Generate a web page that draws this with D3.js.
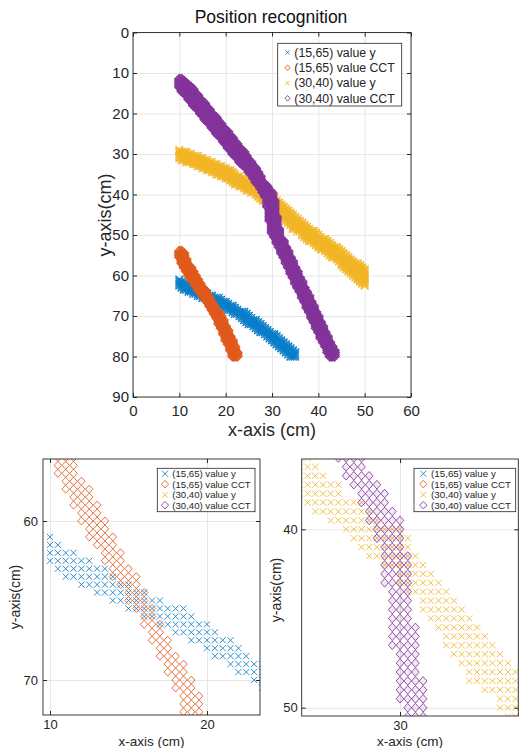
<!DOCTYPE html>
<html>
<head>
<meta charset="utf-8">
<script src="https://cdn.jsdelivr.net/npm/d3@7/dist/d3.min.js"></script>
<style>
  body { margin: 0; background: #fff; }
  svg { display: block; font-family: "Liberation Sans", Arial, sans-serif; }
</style>
</head>
<body>
<svg id="chart" width="519" height="748"></svg>
<script>
const seriesNames = ["(15,65) value y", "(15,65) value CCT", "(30,40) value y", "(30,40) value CCT"];
const seriesColors = ["#0a7ec9", "#e05a1c", "#f2b526", "#83339a"];
const seriesShapes = ["x", "diamond", "x", "diamond"];

const xTicksMain = [0, 10, 20, 30, 40, 50, 60];
const yTicksMain = [0, 10, 20, 30, 40, 50, 60, 70, 80, 90];
const xTicksLeft = [10, 20];
const yTicksLeft = [60, 70];
const xTicksRight = [30];
const yTicksRight = [40, 50];

// markers sit on a 0.5 cm grid; each row is [y, first x, last x]
const blueRows = [
  [61, 10, 10], [61.5, 10, 10.5], [62, 10, 11.5], [62.5, 10, 12.5], [63, 10.5, 13.5],
  [63.5, 11, 14], [64, 12, 15], [64.5, 13, 16], [65, 14, 17], [65.5, 15, 18.5],
  [66, 16, 19], [66.5, 17, 20], [67, 18, 20.5], [67.5, 19, 21.5], [68, 20, 22],
  [68.5, 20.5, 22.5], [69, 21.5, 24], [69.5, 22, 24.5], [70, 23, 25], [70.5, 23.5, 25.5],
  [71, 24, 26.5], [71.5, 24.5, 27], [72, 25, 27.5], [72.5, 26, 28], [73, 26.5, 28.5],
  [73.5, 27, 29], [74, 27.5, 29.5], [74.5, 28.5, 30.5], [75, 29, 31], [75.5, 29.5, 31.5],
  [76, 30, 32], [76.5, 30.5, 32.5], [77, 31, 33], [77.5, 31.5, 33.5], [78, 32, 34],
  [78.5, 32.5, 34.5], [79, 33, 35], [79.5, 33.5, 35], [80, 34, 35],
];

const orangeRows = [
  [54, 10, 10.5], [54.5, 10, 11], [55, 10, 11], [55.5, 10, 11], [56, 10.5, 11.5],
  [56.5, 10.5, 11.5], [57, 10.5, 11.5], [57.5, 11, 12], [58, 11, 12.5], [58.5, 11.5, 12.5],
  [59, 11.5, 13], [59.5, 12, 13], [60, 12, 13.5], [60.5, 12.5, 13.5], [61, 12.5, 14],
  [61.5, 13, 14], [62, 13.5, 14.5], [62.5, 13.5, 14.5], [63, 14, 15], [63.5, 14, 15.5],
  [64, 14.5, 15.5], [64.5, 15, 16], [65, 15, 16], [65.5, 15.5, 16.5], [66, 16, 16.5],
  [66.5, 16, 17], [67, 16.5, 17], [67.5, 16.5, 17.5], [68, 17, 17.5], [68.5, 17, 18],
  [69, 17.5, 18.5], [69.5, 17.5, 18.5], [70, 18, 19], [70.5, 18, 19], [71, 18.5, 19.5],
  [71.5, 18.5, 19.5], [72, 18.5, 19.5], [72.5, 19, 20], [73, 19, 20], [73.5, 19.5, 20.5],
  [74, 19.5, 20.5], [74.5, 19.5, 20.5], [75, 20, 21], [75.5, 20, 21], [76, 20, 21.5],
  [76.5, 20.5, 21.5], [77, 20.5, 21.5], [77.5, 21, 22], [78, 21, 22], [78.5, 21, 22],
  [79, 21.5, 22.5], [79.5, 21.5, 22.5], [80, 21.5, 22.5],
];

const yellowRows = [
  [29, 10, 10], [29.5, 10, 11.5], [30, 10, 12.5], [30.5, 10, 14], [31, 10, 15],
  [31.5, 10.5, 16], [32, 11.5, 17], [32.5, 13, 18], [33, 14, 19], [33.5, 15, 20],
  [34, 16, 21], [34.5, 17, 21.5], [35, 18, 22], [35.5, 19, 23], [36, 20, 24],
  [36.5, 21, 24.5], [37, 21.5, 25], [37.5, 22, 26], [38, 23, 26], [38.5, 24, 27.5],
  [39, 24.5, 28], [39.5, 25.5, 28.5], [40, 26.5, 30], [40.5, 27, 30.5], [41, 27.5, 30.5],
  [41.5, 28, 31], [42, 29, 31.5], [42.5, 30, 32], [43, 30, 32.5], [43.5, 30.5, 33],
  [44, 31.5, 33.5], [44.5, 31.5, 34], [45, 32, 34.5], [45.5, 32.5, 35], [46, 33, 35.5],
  [46.5, 33, 36], [47, 33.5, 36.5], [47.5, 34, 37], [48, 34.5, 37.5], [48.5, 34.5, 38],
  [49, 35.5, 39], [49.5, 36.5, 39.5], [50, 36.5, 40], [50.5, 37, 40.5], [51, 37.5, 41.5],
  [51.5, 38, 42], [52, 39, 42.5], [52.5, 39.5, 43], [53, 40, 44], [53.5, 40.5, 44.5],
  [54, 41.5, 45], [54.5, 42, 45.5], [55, 42.5, 46], [55.5, 43, 46.5], [56, 44, 47],
  [56.5, 44.5, 47.5], [57, 45, 48.5], [57.5, 45, 49], [58, 45.5, 49.5], [58.5, 46, 50],
  [59, 46.5, 50], [59.5, 47, 50], [60, 47.5, 50], [60.5, 48, 50], [61, 48.5, 50],
  [61.5, 49, 50], [62, 49.5, 50], [62.5, 50, 50],
];

const purpleRows = [
  [11.5, 10, 10.5], [12, 10, 11], [12.5, 10, 11.5], [13, 10, 12], [13.5, 10, 12.5],
  [14, 10.5, 13], [14.5, 10.5, 13], [15, 11, 13.5], [15.5, 11.5, 14], [16, 12, 14],
  [16.5, 12, 14.5], [17, 12.5, 15], [17.5, 13, 15.5], [18, 13, 15.5], [18.5, 13.5, 16],
  [19, 14, 16.5], [19.5, 14.5, 16.5], [20, 14.5, 17], [20.5, 15, 17.5], [21, 15.5, 18],
  [21.5, 15.5, 18], [22, 16, 18.5], [22.5, 16.5, 19], [23, 17, 19], [23.5, 17, 19.5],
  [24, 17.5, 20], [24.5, 18, 20.5], [25, 18, 20.5], [25.5, 18.5, 21], [26, 19, 21.5],
  [26.5, 19.5, 21.5], [27, 19.5, 22], [27.5, 20, 22.5], [28, 20.5, 22.5], [28.5, 20.5, 23],
  [29, 21, 23.5], [29.5, 21.5, 24], [30, 21.5, 24], [30.5, 22, 24.5], [31, 22.5, 24.5],
  [31.5, 23, 25], [32, 23, 25.5], [32.5, 23.5, 25.5], [33, 24, 26], [33.5, 24.5, 26.5],
  [34, 25, 26.5], [34.5, 25, 27], [35, 25.5, 27], [35.5, 26, 27.5], [36, 26, 27.5],
  [36.5, 26.5, 27.5], [37, 26.5, 28], [37.5, 27, 28.5], [38, 27.5, 29], [38.5, 27.5, 29],
  [39, 28, 29.5], [39.5, 28, 30], [40, 28.5, 30], [40.5, 28.5, 30], [41, 29, 30],
  [41.5, 29, 30.5], [42, 29, 30.5], [42.5, 29, 30.5], [43, 29, 30.5], [43.5, 29.5, 30.5],
  [44, 29.5, 30.5], [44.5, 29.5, 30.5], [45, 29.5, 30.5], [45.5, 29.5, 31], [46, 29.5, 31],
  [46.5, 29.5, 31], [47, 30, 31], [47.5, 30, 31], [48, 30, 31], [48.5, 30, 31.5],
  [49, 30, 31.5], [49.5, 30, 31.5], [50, 30.5, 31.5], [50.5, 30.5, 31.5], [51, 31, 32],
  [51.5, 31, 32.5], [52, 31, 32.5], [52.5, 31.5, 32.5], [53, 31.5, 33], [53.5, 32, 33],
  [54, 32, 33.5], [54.5, 32, 33.5], [55, 32.5, 33.5], [55.5, 32.5, 34], [56, 33, 34],
  [56.5, 33, 34.5], [57, 33, 34.5], [57.5, 33.5, 34.5], [58, 33.5, 35], [58.5, 34, 35],
  [59, 34, 35.5], [59.5, 34, 35.5], [60, 34.5, 35.5], [60.5, 34.5, 36], [61, 35, 36],
  [61.5, 35, 36.5], [62, 35, 36.5], [62.5, 35.5, 36.5], [63, 35.5, 37], [63.5, 36, 37],
  [64, 36, 37.5], [64.5, 36.5, 37.5], [65, 36.5, 38], [65.5, 36.5, 38], [66, 37, 38],
  [66.5, 37, 38.5], [67, 37.5, 38.5], [67.5, 37.5, 39], [68, 37.5, 39], [68.5, 38, 39],
  [69, 38, 39.5], [69.5, 38.5, 39.5], [70, 38.5, 40], [70.5, 38.5, 40], [71, 39, 40],
  [71.5, 39, 40.5], [72, 39.5, 40.5], [72.5, 39.5, 41], [73, 39.5, 41], [73.5, 40, 41],
  [74, 40, 41.5], [74.5, 40.5, 41.5], [75, 40.5, 42], [75.5, 40.5, 42], [76, 41, 42],
  [76.5, 41, 42.5], [77, 41.5, 42.5], [77.5, 41.5, 43], [78, 42, 43], [78.5, 42, 43.5],
  [79, 42, 43.5], [79.5, 42.5, 43.5], [80, 42.5, 43.5],
];

const GRID_STEP = 0.5;
const TEXT_COLOR = "#262626";
const GRID_COLOR = "#e6e6e6";

const series = [blueRows, orangeRows, yellowRows, purpleRows].map((rows, i) => ({
  name: seriesNames[i],
  color: seriesColors[i],
  shape: seriesShapes[i],
  points: expandRows(rows),
}));

const svg = d3.select("#chart");

function expandRows(rows) {
  const points = [];
  rows.forEach(([y, x0, x1]) => {
    const count = Math.round((x1 - x0) / GRID_STEP);
    for (let i = 0; i <= count; i += 1) points.push({ x: x0 + i * GRID_STEP, y });
  });
  return points;
}

function markerPath(shape, size) {
  if (shape === "x") {
    const s = size.x;
    return `M${-s},${-s}L${s},${s}M${-s},${s}L${s},${-s}`;
  }
  const { rx, ry } = size.diamond;
  return `M0,${-ry}L${rx},0L0,${ry}L${-rx},0Z`;
}

function drawPanel(panel) {
  const { box } = panel;
  const width = box.right - box.left;
  const height = box.bottom - box.top;
  const x = d3.scaleLinear().domain(panel.xDomain).range([box.left, box.right]);
  const y = d3.scaleLinear().domain(panel.yDomain).range([box.top, box.bottom]);
  const root = svg.append("g").attr("class", `panel-${panel.id}`);

  root.append("clipPath")
    .attr("id", `clip-${panel.id}`)
    .append("rect")
    .attr("x", box.left)
    .attr("y", box.top)
    .attr("width", width)
    .attr("height", height);

  // grid
  root.append("g")
    .attr("transform", `translate(0,${box.bottom})`)
    .call(d3.axisBottom(x).tickValues(panel.xTicks).tickSize(-height).tickFormat(""))
    .call((g) => g.select(".domain").remove())
    .selectAll("line")
    .attr("stroke", GRID_COLOR);

  root.append("g")
    .attr("transform", `translate(${box.left},0)`)
    .call(d3.axisLeft(y).tickValues(panel.yTicks).tickSize(-width).tickFormat(""))
    .call((g) => g.select(".domain").remove())
    .selectAll("line")
    .attr("stroke", GRID_COLOR);

  const dataLayer = root.append("g").attr("clip-path", `url(#clip-${panel.id})`);
  series.forEach((s) => {
    dataLayer.append("g")
      .selectAll("path")
      .data(s.points)
      .join("path")
      .attr("transform", (d) => `translate(${x(d.x)},${y(d.y)})`)
      .attr("d", markerPath(s.shape, panel.marker))
      .attr("fill", s.shape === "diamond" && panel.diamondFill ? s.color : "none")
      .attr("fill-opacity", panel.diamondFill || 0)
      .attr("stroke", s.color)
      .attr("stroke-width", panel.marker.stroke);
  });

  const tick = 4;
  const styleAxis = (g, fontSize) =>
    g.attr("color", TEXT_COLOR)
      .attr("font-family", null)
      .attr("font-size", fontSize)
      .call((sel) => sel.select(".domain").remove());

  root.append("g")
    .attr("transform", `translate(0,${box.bottom})`)
    .call(d3.axisBottom(x).tickValues(panel.xTicks).tickSize(-tick).tickPadding(panel.xTickPad).tickFormat(d3.format("d")))
    .call((g) => styleAxis(g, panel.tickFont));
  root.append("g")
    .attr("transform", `translate(0,${box.top})`)
    .call(d3.axisTop(x).tickValues(panel.xTicks).tickSize(-tick).tickFormat(""))
    .call((g) => styleAxis(g, panel.tickFont));
  root.append("g")
    .attr("transform", `translate(${box.left},0)`)
    .call(d3.axisLeft(y).tickValues(panel.yTicks).tickSize(-tick).tickPadding(panel.yTickPad).tickFormat(d3.format("d")))
    .call((g) => styleAxis(g, panel.tickFont));
  root.append("g")
    .attr("transform", `translate(${box.right},0)`)
    .call(d3.axisRight(y).tickValues(panel.yTicks).tickSize(-tick).tickFormat(""))
    .call((g) => styleAxis(g, panel.tickFont));

  root.append("rect")
    .attr("x", box.left)
    .attr("y", box.top)
    .attr("width", width)
    .attr("height", height)
    .attr("fill", "none")
    .attr("stroke", TEXT_COLOR)
    .attr("stroke-width", 0.9);

  root.append("text")
    .attr("x", panel.xLabel.x)
    .attr("y", panel.xLabel.y)
    .attr("text-anchor", "middle")
    .attr("font-size", panel.xLabel.font)
    .attr("fill", TEXT_COLOR)
    .text("x-axis (cm)");

  root.append("text")
    .attr("transform", `translate(${panel.yLabel.x},${panel.yLabel.y}) rotate(-90)`)
    .attr("text-anchor", "middle")
    .attr("font-size", panel.yLabel.font)
    .attr("fill", TEXT_COLOR)
    .text("y-axis(cm)");

  if (panel.title) {
    root.append("text")
      .attr("x", panel.title.x)
      .attr("y", panel.title.y)
      .attr("text-anchor", "middle")
      .attr("font-size", panel.title.font)
      .attr("fill", "#111")
      .text(panel.title.text);
  }

  drawLegend(root, panel.legend);
}

function drawLegend(root, legend) {
  const g = root.append("g");
  g.append("rect")
    .attr("x", legend.left)
    .attr("y", legend.top)
    .attr("width", legend.width)
    .attr("height", legend.height)
    .attr("fill", "#fff")
    .attr("stroke", TEXT_COLOR)
    .attr("stroke-width", 0.8);

  series.forEach((s, i) => {
    const baseline = legend.firstBaseline + i * legend.step;
    g.append("path")
      .attr("transform", `translate(${legend.markerX},${baseline - legend.font * 0.34})`)
      .attr("d", markerPath(s.shape, legend.marker))
      .attr("fill", "none")
      .attr("stroke", s.color)
      .attr("stroke-width", legend.marker.stroke);
    g.append("text")
      .attr("x", legend.textX)
      .attr("y", baseline)
      .attr("font-size", legend.font)
      .attr("fill", TEXT_COLOR)
      .text(s.name);
  });
}

drawPanel({
  id: "main",
  box: { left: 133, right: 411, top: 32.5, bottom: 397 },
  xDomain: [0, 60],
  yDomain: [0, 90],
  xTicks: xTicksMain,
  yTicks: yTicksMain,
  tickFont: 15,
  xTickPad: 8,
  yTickPad: 4,
  marker: { x: 3.9, diamond: { rx: 4.6, ry: 4.6 }, stroke: 1.4 },
  title: { text: "Position recognition", x: 271, y: 23, font: 17.5 },
  xLabel: { x: 272, y: 436, font: 18 },
  yLabel: { x: 111, y: 215, font: 18 },
  legend: {
    left: 277.7, top: 43.3, width: 124, height: 62.7,
    firstBaseline: 56.6, step: 15.3, markerX: 287.5, textX: 294.3, font: 12.3,
    marker: { x: 2, diamond: { rx: 2.6, ry: 2.8 }, stroke: 0.9 },
  },
});

drawPanel({
  id: "left",
  box: { left: 43, right: 260, top: 459, bottom: 715 },
  xDomain: [9.554, 23.376],
  yDomain: [56.1, 72.2],
  xTicks: xTicksLeft,
  yTicks: yTicksLeft,
  tickFont: 13,
  xTickPad: 5,
  yTickPad: 5,
  marker: { x: 3.1, diamond: { rx: 3.7, ry: 4 }, stroke: 0.85 },
  xLabel: { x: 151.5, y: 746, font: 13.5 },
  yLabel: { x: 20, y: 597, font: 14 },
  legend: {
    left: 157.3, top: 468.3, width: 97.7, height: 43.4,
    firstBaseline: 477, step: 10.5, markerX: 165, textX: 172.3, font: 9.6,
    marker: { x: 3, diamond: { rx: 3.6, ry: 3.8 }, stroke: 0.85 },
  },
});

drawPanel({
  id: "right",
  box: { left: 301.7, right: 518.3, top: 459, bottom: 716 },
  xDomain: [23.617, 37.68],
  yDomain: [36.06, 50.465],
  xTicks: xTicksRight,
  yTicks: yTicksRight,
  tickFont: 13,
  xTickPad: 5,
  yTickPad: 4,
  marker: { x: 3.1, diamond: { rx: 3.8, ry: 4.3 }, stroke: 0.85 },
  diamondFill: 0.1,
  xLabel: { x: 410, y: 746, font: 13.5 },
  yLabel: { x: 281, y: 590, font: 14 },
  legend: {
    left: 414, top: 468.3, width: 101.7, height: 43.4,
    firstBaseline: 477, step: 10.5, markerX: 423.3, textX: 431, font: 9.8,
    marker: { x: 3, diamond: { rx: 3.6, ry: 3.8 }, stroke: 0.85 },
  },
});
</script>
</body>
</html>
